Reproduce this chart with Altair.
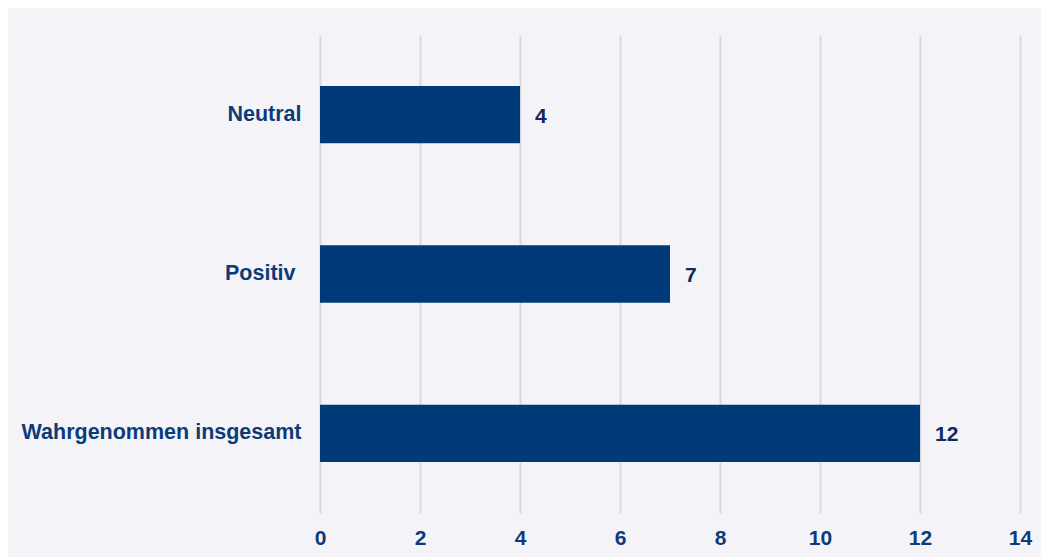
import altair as alt
import pandas as pd

categories = ["Neutral", "Positiv", "Wahrgenommen insgesamt"]
values = [4, 7, 12]

df = pd.DataFrame({"kategorie": categories, "anzahl": values})

bar_color = "#003a78"
label_color = "#0d3b78"
text_color = "#14285a"

base = alt.Chart(df).encode(
    y=alt.Y("kategorie:N", sort=categories, title=None,
            scale=alt.Scale(paddingInner=0.64, paddingOuter=0.32),
            axis=alt.Axis(labelFont="Liberation Sans", labelFontSize=21.5, labelFontWeight="bold",
                          labelColor=label_color,
                          labelPadding={"condition": {"test": "datum.value === 'Positiv'", "value": 25},
                                        "value": 19},
                          labelLimit=0, ticks=False, domain=False, grid=False)),
)

bars = base.mark_bar(color=bar_color).encode(
    x=alt.X("anzahl:Q", title=None, scale=alt.Scale(domain=[0, 14], nice=False),
            axis=alt.Axis(values=[0, 2, 4, 6, 8, 10, 12, 14], labelFont="Liberation Sans",
                          labelFontSize=21, labelFontWeight="bold", labelColor=label_color,
                          labelPadding=14, labelFlush=False, ticks=False, domain=False, grid=True,
                          gridColor="#d9d9de", gridWidth=2)),
)

texts = base.mark_text(align="left", baseline="middle", dx=15, dy=2, font="Liberation Sans",
                       fontSize=21, fontWeight="bold", color=text_color).encode(
    x="anzahl:Q", text="anzahl:Q"
)

chart = (bars + texts).properties(
    width=700, height=478,
    background="#f4f4f8",
    padding={"left": 312, "top": 27, "right": 21, "bottom": 44},
    autosize=alt.AutoSizeParams(type="none"),
).configure_view(stroke=None)

chart.save("out.html", embed_options={"renderer": "svg", "actions": False})
